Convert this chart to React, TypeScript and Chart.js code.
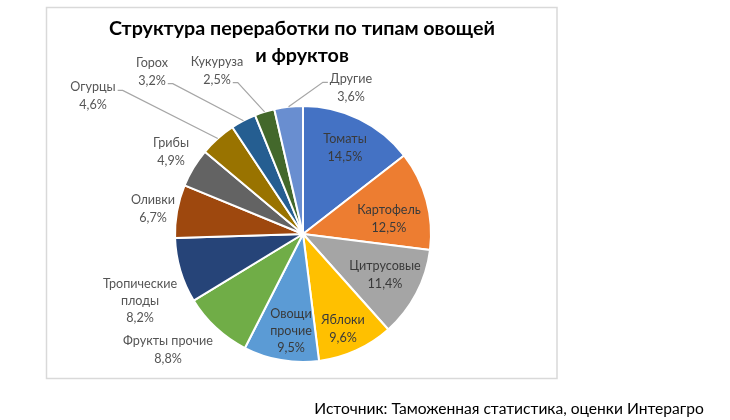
import React, { useEffect, useRef } from "react";
import { Chart, registerables } from "chart.js";

Chart.register(...registerables);

const categories = [
  "Томаты",
  "Картофель",
  "Цитрусовые",
  "Яблоки",
  "Овощи прочие",
  "Фрукты прочие",
  "Тропические плоды",
  "Оливки",
  "Грибы",
  "Огурцы",
  "Горох",
  "Кукуруза",
  "Другие",
];
const shares = [14.5, 12.5, 11.4, 9.6, 9.5, 8.8, 8.2, 6.7, 4.9, 4.6, 3.2, 2.5, 3.6];
const colors = [
  "#4472C4",
  "#ED7D31",
  "#A5A5A5",
  "#FFC000",
  "#5B9BD5",
  "#70AD47",
  "#264478",
  "#9E480E",
  "#636363",
  "#997300",
  "#255E91",
  "#43682B",
  "#698ED0",
];
const titleLines = ["Структура переработки по типам овощей", "и фруктов"];
const sourceText = "Источник: Таможенная статистика, оценки Интерагро";

// label text lines (category name split as in the picture)
const labelLines = [
  ["Томаты"],
  ["Картофель"],
  ["Цитрусовые"],
  ["Яблоки"],
  ["Овощи", "прочие"],
  ["Фрукты прочие"],
  ["Тропические", "плоды"],
  ["Оливки"],
  ["Грибы"],
  ["Огурцы"],
  ["Горох"],
  ["Кукуруза"],
  ["Другие"],
];
// label block centre, offset from the pie centre (px)
const labelOffsets = [
  [42, -86],
  [86, -15],
  [82, 41],
  [40, 95],
  [-12, 97],
  [-135, 116],
  [-163, 67],
  [-150, -25],
  [-132, -82],
  [-210, -138],
  [-151, -162],
  [-86, -163],
  [48, -146],
];
const labelInside = [true, true, true, true, true, false, false, false, false, false, false, false, false];
// leader line: [line index, side] or null
const leaders: (null | [number, "left" | "right"])[] = [
  null, null, null, null, null, null, null, null, null,
  [0, "right"],
  [1, "right"],
  [1, "right"],
  [0, "left"],
];

const FONT = "Lato, 'Open Sans', sans-serif";

const fmt = (v: number) => v.toFixed(1).replace(".", ",") + "%";

const decorPlugin = {
  id: "decor",
  beforeDraw(chart: any) {
    const ctx = chart.ctx;
    ctx.save();
    ctx.fillStyle = "#ffffff";
    ctx.fillRect(0, 0, chart.width, chart.height);
    ctx.strokeStyle = "#d9d9d9";
    ctx.lineWidth = 1.5;
    ctx.strokeRect(46.5, 7.5, 510.5, 371);
    ctx.fillStyle = "#000000";
    ctx.textAlign = "center";
    ctx.textBaseline = "middle";
    ctx.font = `bold 19.7px ${FONT}`;
    ctx.fillText(titleLines[0], 302, 29);
    ctx.fillText(titleLines[1], 302, 56);
    ctx.font = `15.6px ${FONT}`;
    ctx.fillText(sourceText, 509, 409);
    ctx.restore();
  },
  afterDatasetsDraw(chart: any) {
    const ctx = chart.ctx;
    const meta = chart.getDatasetMeta(0);
    ctx.save();
    ctx.textAlign = "center";
    ctx.textBaseline = "middle";
    ctx.font = `12.6px ${FONT}`;
    const lh = 17.3;
    meta.data.forEach((arc: any, i: number) => {
      const p = arc.getProps(["x", "y", "startAngle", "endAngle", "outerRadius"], true);
      const mid = (p.startAngle + p.endAngle) / 2;
      const lines = [...labelLines[i], fmt(shares[i])];
      const cx = p.x + labelOffsets[i][0];
      const cy = p.y + labelOffsets[i][1];
      ctx.fillStyle = labelInside[i] ? "#3a3a3a" : "#555555";
      lines.forEach((t, k) => {
        ctx.fillText(t, cx, cy + (k - (lines.length - 1) / 2) * lh);
      });
      const ld = leaders[i];
      if (ld) {
        const [li, side] = ld;
        const w = ctx.measureText(lines[li]).width;
        const ly = cy + (li - (lines.length - 1) / 2) * lh + 3;
        const dir = side === "right" ? 1 : -1;
        const ax = cx + dir * (w / 2 + 2);
        const ex = p.x + Math.cos(mid) * p.outerRadius;
        const ey = p.y + Math.sin(mid) * p.outerRadius;
        ctx.strokeStyle = "#a6a6a6";
        ctx.lineWidth = 1.2;
        ctx.beginPath();
        ctx.moveTo(ax, ly);
        ctx.lineTo(ax + dir * 5, ly);
        ctx.lineTo(ex, ey);
        ctx.stroke();
      }
    });
    ctx.restore();
  },
};

export default function App() {
  const ref = useRef<HTMLCanvasElement | null>(null);
  useEffect(() => {
    if (!ref.current) return;
    const chart = new Chart(ref.current, {
      type: "pie",
      data: {
        labels: categories,
        datasets: [
          {
            data: shares,
            backgroundColor: colors,
            borderColor: "#ffffff",
            borderWidth: 2,
          },
        ],
      },
      options: {
        responsive: false,
        animation: false,
        radius: 128,
        layout: { padding: { left: 175, right: 299, top: 106, bottom: 58 } },
        plugins: {
          legend: { display: false },
          tooltip: { enabled: false },
          title: { display: false },
        },
      } as any,
      plugins: [decorPlugin],
    });
    return () => chart.destroy();
  }, []);
  return (
    <div style={{ position: "fixed", left: 0, top: 0, width: 730, height: 420, background: "#fff" }}>
      <canvas ref={ref} width={730} height={420} style={{ width: 730, height: 420, display: "block" }} />
    </div>
  );
}
